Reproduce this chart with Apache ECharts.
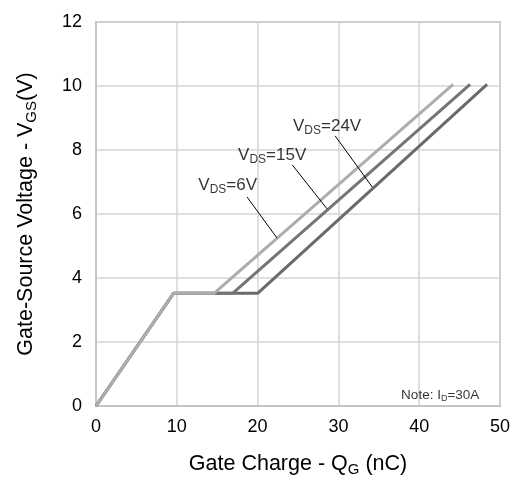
<!DOCTYPE html>
<html>
<head>
<meta charset="utf-8">
<script src="https://cdn.jsdelivr.net/npm/echarts@6/dist/echarts.min.js"></script>
<style>html,body{margin:0;padding:0;background:#fff;}#c{width:516px;height:478px;}</style>
</head>
<body>
<div id="c"></div>
<script>
// Gate charge curves (Qg nC, Vgs V)
var vds6V  = [[0,0],[9.6,3.52],[14.6,3.52],[44.2,10.05]];
var vds15V = [[0,0],[9.6,3.52],[16.9,3.52],[46.3,10.05]];
var vds24V = [[0,0],[9.6,3.52],[20.0,3.52],[48.4,10.05]];

var seriesNames = ['6V','15V','24V'];
// annotation label anchor points (data coords)
var labelPoints = [[16.3,6.91],[21.8,7.84],[28.6,8.75]];
// leader lines (data coords)
var leaders = [
  [[18.7,6.53],[22.4,5.25]],
  [[24.3,7.53],[28.6,6.16]],
  [[29.6,8.44],[34.2,6.84]]
];
var notePoint = [42.6,0.34];

var xTicks = {min:0,max:50,interval:10};
var yTicks = {min:0,max:12,interval:2};

var FONT = 'Liberation Sans, Arial, sans-serif';
var chart = echarts.init(document.getElementById('c'));
var subRich = {
  n:{fontSize:17,fontFamily:FONT,color:'#000'},
  s:{fontSize:12,fontFamily:FONT,color:'#000',verticalAlign:'bottom',padding:[0,0,-2,0]}
};
var nameRich = {
  n:{fontSize:21.5,fontFamily:FONT,color:'#000'},
  s:{fontSize:15,fontFamily:FONT,color:'#000',verticalAlign:'bottom',padding:[0,0,-2,0]}
};
chart.setOption({
  animation:false,
  backgroundColor:'#fff',
  grid:{left:96,right:16,top:22,bottom:72,show:true,borderColor:'#c4c4c4',borderWidth:2,outerBoundsMode:'none',containLabel:false},
  xAxis:{type:'value',min:xTicks.min,max:xTicks.max,interval:xTicks.interval,
    axisLine:{show:true,lineStyle:{color:'#c4c4c4',width:2}},
    axisTick:{show:false},
    splitLine:{lineStyle:{color:'#d4d4d4',width:1.5}},
    axisLabel:{fontSize:18,fontFamily:FONT,color:'#000',margin:12},
    name:'{n|Gate Charge - Q}{s|G}{n| (nC)}',nameLocation:'middle',nameGap:47,
    nameTextStyle:{rich:nameRich}
  },
  yAxis:{type:'value',min:yTicks.min,max:yTicks.max,interval:yTicks.interval,
    axisLine:{show:true,lineStyle:{color:'#c4c4c4',width:2}},
    axisTick:{show:false},
    splitLine:{lineStyle:{color:'#d4d4d4',width:1.5}},
    axisLabel:{fontSize:18,fontFamily:FONT,color:'#000',margin:14},
    name:'{n|Gate-Source Voltage - V}{s|GS}{n|(V)}',nameLocation:'middle',nameGap:59,nameRotate:90,
    nameTextStyle:{rich:nameRich}
  },
  series:[
    {type:'line',name:'24V',data:vds24V,symbol:'none',lineStyle:{color:'#6a6a6a',width:3},z:2},
    {type:'line',name:'15V',data:vds15V,symbol:'none',lineStyle:{color:'#757575',width:3},z:3},
    {type:'line',name:'6V',data:vds6V,symbol:'none',lineStyle:{color:'#adadad',width:3},z:4,
      markLine:{silent:true,symbol:'none',label:{show:false},lineStyle:{color:'#000',width:1,type:'solid'},
        data:leaders.map(function(l){return [{coord:l[0]},{coord:l[1]}];})}},
    {type:'scatter',symbolSize:0,z:5,
      data:labelPoints.map(function(p,i){return {value:p,name:seriesNames[i]};}),
      label:{show:true,position:'inside',formatter:function(p){return '{n|V}{s|DS}{n|='+p.name+'}';},rich:subRich}},
    {type:'scatter',symbolSize:0,z:5,data:[notePoint],
      label:{show:true,position:'inside',formatter:'{n|Note: I}{s|D}{n|=30A}',
        rich:{n:{fontSize:13.5,fontFamily:FONT,color:'#000'},s:{fontSize:9,fontFamily:FONT,color:'#000',verticalAlign:'bottom',padding:[0,0,-1,0]}}}}
  ]
});
</script>
</body>
</html>
